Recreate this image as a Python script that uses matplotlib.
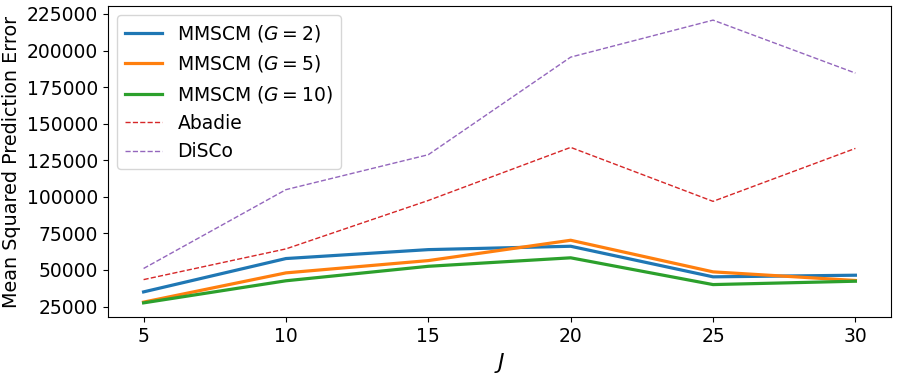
import matplotlib.pyplot as plt
from matplotlib.ticker import MultipleLocator

# J values and MSPE for each method
J = [5, 10, 15, 20, 25, 30]
mmscm_g2 = [35000, 57800, 63900, 66200, 45300, 46400]
mmscm_g5 = [28000, 48000, 56400, 70300, 48700, 42800]
mmscm_g10 = [27500, 42600, 52500, 58300, 40000, 42300]
abadie = [43400, 64400, 97500, 133800, 96900, 133100]
disco = [51000, 104900, 128800, 195500, 220800, 184600]

plt.rcParams['font.size'] = 13.5

fig, ax = plt.subplots(figsize=(8.97, 3.74), dpi=100)
ax.plot(J, mmscm_g2, color='tab:blue', linewidth=2.3, label=r'MMSCM ($G=2$)')
ax.plot(J, mmscm_g5, color='tab:orange', linewidth=2.3, label=r'MMSCM ($G=5$)')
ax.plot(J, mmscm_g10, color='tab:green', linewidth=2.3, label=r'MMSCM ($G=10$)')
ax.plot(J, abadie, color='tab:red', linestyle='--', linewidth=1.0, label='Abadie')
ax.plot(J, disco, color='tab:purple', linestyle='--', linewidth=1.0, label='DiSCo')

ax.yaxis.set_major_locator(MultipleLocator(25000))
ax.tick_params(labelsize=13.5)
ax.set_xlabel(r'$J$', fontsize=16)
ax.set_ylabel('Mean Squared Prediction Error', fontsize=13.8)
ax.legend(loc='upper left', fontsize=13.5)

plt.subplots_adjust(left=0.1204, right=0.9933, top=0.984, bottom=0.1524)
plt.savefig('out.png')
